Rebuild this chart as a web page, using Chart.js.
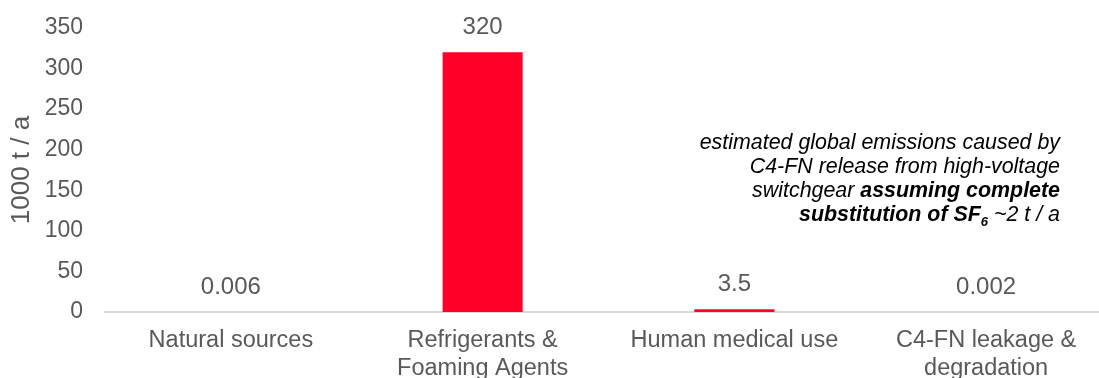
<!DOCTYPE html>
<html>
<head>
<meta charset="utf-8">
<script src="https://cdn.jsdelivr.net/npm/chart.js@4.4.1/dist/chart.umd.min.js"></script>
<style>
    html, body { margin: 0; padding: 0; background: #fff; overflow: hidden; }
    .wrap { position: relative; width: 1112px; height: 378px; }
    .note {
        position: absolute; right: 52px; top: 130px;
        font: italic 21.4px 'Liberation Sans', Arial, sans-serif;
        line-height: 24px; text-align: right; color: #000;
        white-space: nowrap;
    }
    .note sub { font-size: 13px; line-height: 0; }
</style>
</head>
<body>
<div class="wrap">
    <canvas class="emissions"></canvas>
    <div class="note">estimated global emissions caused by<br>C4-FN release from high-voltage<br>switchgear <b>assuming complete</b><br><b>substitution of SF<sub>6</sub></b> ~2 t / a</div>
</div>
<script>
const categories = [
    'Natural sources',
    ['Refrigerants &', 'Foaming Agents'],
    'Human medical use',
    ['C4-FN leakage &', 'degradation'],
];
const emissions = [0.006, 320, 3.5, 0.002];
const yTicks = [0, 50, 100, 150, 200, 250, 300, 350];

const textGrey = '#595959';
const font = "'Liberation Sans', Arial, sans-serif";

// value labels above each bar
const valueLabels = {
    id: 'valueLabels',
    afterDatasetsDraw(chart) {
        const ctx = chart.ctx;
        const meta = chart.getDatasetMeta(0);
        ctx.save();
        ctx.fillStyle = textGrey;
        ctx.font = `24px ${font}`;
        ctx.textAlign = 'center';
        ctx.textBaseline = 'middle';
        meta.data.forEach(function (bar, i) {
            ctx.fillText(String(emissions[i]), bar.x, bar.y - 25);
        });
        ctx.restore();
    },
};

const createChart = function () {
    const data = {
        labels: categories,
        datasets: [
            {
                data: emissions,
                backgroundColor: '#FF0029',
                borderWidth: 0,
                barPercentage: 0.318,
                categoryPercentage: 1,
            },
        ],
    };

    const config = {
        type: 'bar',
        data: data,
        plugins: [valueLabels],
        options: {
            responsive: false,
            animation: false,
            layout: { padding: { top: 28, right: 0, left: 0, bottom: 0 } },
            plugins: {
                legend: { display: false },
                tooltip: { enabled: false },
            },
            scales: {
                x: {
                    grid: { display: false, drawTicks: false },
                    border: { display: true, color: '#D9D9D9', width: 2 },
                    ticks: {
                        color: textGrey,
                        font: { family: font, size: 23.5 },
                        padding: 14,
                        maxRotation: 0,
                        autoSkip: false,
                    },
                    afterFit(scale) { scale.height = 66; },
                },
                y: {
                    min: 0,
                    max: 350,
                    grid: { display: false, drawTicks: false },
                    border: { display: false },
                    afterBuildTicks(scale) {
                        scale.ticks = yTicks.map(v => ({ value: v }));
                    },
                    ticks: {
                        color: textGrey,
                        font: { family: font, size: 23 },
                        padding: 22,
                    },
                    title: {
                        display: true,
                        text: '1000 t / a',
                        color: textGrey,
                        font: { family: font, size: 26 },
                        padding: { top: 6, bottom: 0 },
                    },
                    afterFit(scale) {
                        scale.width = 105;
                        scale.paddingTop = 0;
                        scale.paddingBottom = 0;
                    },
                },
            },
        },
    };

    const canvas = document.querySelector('.emissions');
    canvas.width = 1112;
    canvas.height = 378;
    new Chart(canvas, config);
};

document.addEventListener('DOMContentLoaded', createChart);
</script>
</body>
</html>
